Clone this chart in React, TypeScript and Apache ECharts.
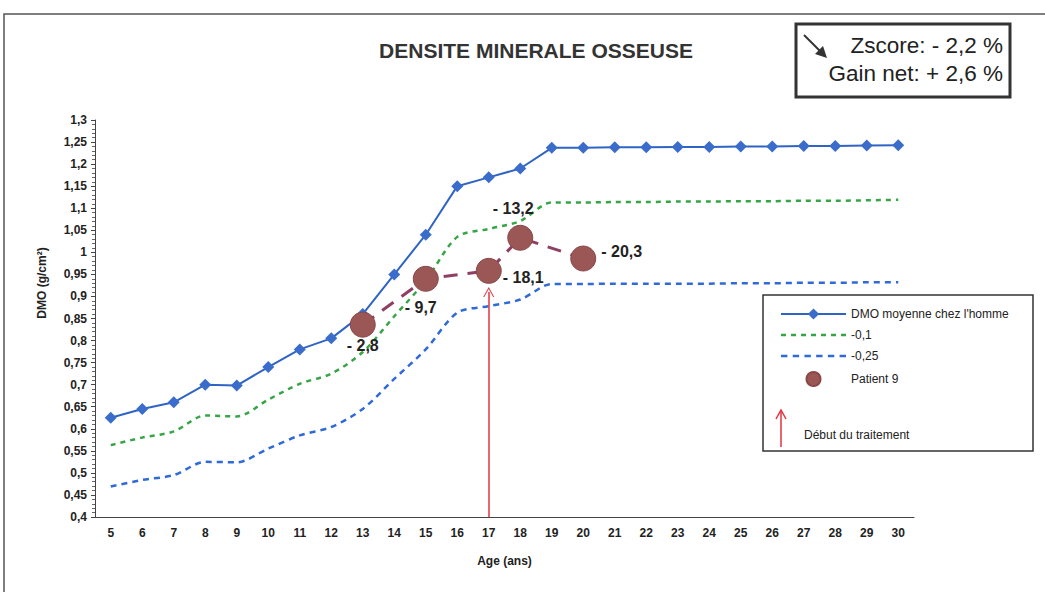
import React, { useEffect, useRef } from "react";
import * as echarts from "echarts";

const ages = ["5","6","7","8","9","10","11","12","13","14","15","16","17","18","19","20","21","22","23","24","25","26","27","28","29","30"];
const dmoMoyenne = [0.625,0.645,0.66,0.70,0.698,0.74,0.78,0.805,0.86,0.95,1.04,1.15,1.17,1.19,1.237,1.237,1.238,1.238,1.239,1.239,1.24,1.24,1.241,1.241,1.242,1.243];
const moins01 = [0.563,0.58,0.594,0.63,0.628,0.666,0.702,0.725,0.774,0.855,0.936,1.035,1.053,1.071,1.113,1.113,1.114,1.114,1.115,1.115,1.116,1.116,1.117,1.117,1.118,1.119];
const moins025 = [0.469,0.484,0.495,0.525,0.524,0.555,0.585,0.604,0.645,0.713,0.78,0.863,0.878,0.893,0.928,0.928,0.929,0.929,0.929,0.929,0.93,0.93,0.931,0.931,0.932,0.932];
const patientAges = ["13","15","17","18","20"];
const patientValues = [0.836,0.94,0.958,1.033,0.986];
const patientLabels = ["- 2,8","- 9,7","- 18,1","- 13,2","- 20,3"];
const yTickMin = 0.4;
const yTickMax = 1.3;
const yTickStep = 0.05;
const debutAge = "17";
const debutTop = 0.91;

const FONT = "Arial, 'Liberation Sans', sans-serif";

const labelPlacement = [
  { position: "bottom", distance: 0, offset: [0, 0] },
  { position: "bottom", distance: 8, offset: [-5, 0] },
  { position: "right", distance: 1, offset: [0, 7] },
  { position: "top", distance: 8, offset: [-7, 0] },
  { position: "right", distance: 5, offset: [0, -7] },
];

function dashIcon(dash: number, gap: number, total: number, h: number) {
  let d = "path://";
  for (let x = 0; x < total; x += dash + gap) {
    const w = Math.min(dash, total - x);
    d += `M${x},0h${w}v${h}h-${w}z `;
  }
  return d.trim();
}

export default function App() {
  const ref = useRef<HTMLDivElement>(null);
  useEffect(() => {
    document.body.style.margin = "0";
    const chart = echarts.init(ref.current!, null, { renderer: "svg" });
    const patientData = patientAges.map((a, i) => ({
      value: [a, patientValues[i]],
      label: {
        show: true,
        formatter: patientLabels[i],
        position: labelPlacement[i].position,
        distance: labelPlacement[i].distance,
        offset: labelPlacement[i].offset,
      },
    }));
    chart.setOption({
      animation: false,
      backgroundColor: "#ffffff",
      title: {
        text: "DENSITE MINERALE OSSEUSE",
        left: 531,
        top: 35,
        textAlign: "center",
        textStyle: { fontFamily: FONT, fontSize: 21, fontWeight: "bold", color: "#333" },
      },
      grid: { left: 95, right: 131, top: 120, bottom: 75 },
      legend: {
        orient: "vertical",
        left: 775,
        top: 303,
        itemWidth: 65,
        itemHeight: 14,
        itemGap: 9,
        textStyle: { fontFamily: FONT, fontSize: 12, color: "#222" },
        data: [
          { name: "DMO moyenne chez l'homme" },
          { name: "-0,1", icon: dashIcon(5, 5, 65, 2.5), itemStyle: { color: "#35A545" } },
          { name: "-0,25", icon: dashIcon(6, 5, 65, 2.5), itemStyle: { color: "#2F6AD6" } },
          { name: "Patient 9", icon: "circle", itemStyle: { color: "#9B5656" } },
        ],
      },
      xAxis: {
        type: "category",
        data: ages,
        boundaryGap: true,
        name: "Age (ans)",
        nameLocation: "middle",
        nameGap: 38,
        nameTextStyle: { fontFamily: FONT, fontSize: 12, fontWeight: "bold", color: "#222" },
        axisLine: { lineStyle: { color: "#444", width: 1 } },
        axisTick: { length: 4, lineStyle: { color: "#444" } },
        axisLabel: { fontFamily: FONT, fontSize: 12, fontWeight: "bold", color: "#222", margin: 10 },
      },
      yAxis: {
        type: "value",
        min: yTickMin,
        max: yTickMax,
        interval: yTickStep,
        axisLine: { show: true, lineStyle: { color: "#444", width: 1 } },
        axisTick: { show: true, length: 4, lineStyle: { color: "#444" } },
        minorTick: { show: true, splitNumber: 5, length: 3, lineStyle: { color: "#666" } },
        splitLine: { show: false },
        axisLabel: {
          fontFamily: FONT,
          fontSize: 12,
          fontWeight: "bold",
          color: "#222",
          margin: 8,
          formatter: (v: number) => String(+v.toFixed(2)).replace(".", ","),
        },
      },
      series: [
        {
          name: "-0,25",
          type: "line",
          data: moins025,
          smooth: 0.3,
          showSymbol: false,
          symbol: "none",
          lineStyle: { color: "#2F6AD6", width: 2.5, type: [6, 5] },
          itemStyle: { color: "#2F6AD6" },
        },
        {
          name: "-0,1",
          type: "line",
          data: moins01,
          smooth: 0.3,
          showSymbol: false,
          symbol: "none",
          lineStyle: { color: "#35A545", width: 2.5, type: [5, 5] },
          itemStyle: { color: "#35A545" },
        },
        {
          name: "DMO moyenne chez l'homme",
          type: "line",
          data: dmoMoyenne,
          symbol: "diamond",
          symbolSize: 12,
          lineStyle: { color: "#2F64C4", width: 2 },
          itemStyle: { color: "#3A6CCB" },
        },
        {
          name: "Patient 9",
          type: "line",
          data: patientData,
          symbol: "circle",
          symbolSize: 25,
          lineStyle: { color: "#8E3F63", width: 3, type: [14, 10] },
          itemStyle: { color: "#9B5656", borderColor: "#8A4848", borderWidth: 1 },
          label: { fontFamily: FONT, fontSize: 16, fontWeight: "bold", color: "#222" },
          z: 5,
          markLine: {
            silent: true,
            symbol: ["none", "path://M0,10 L5,0 L10,10 L9,10 L5,2 L1,10 Z"],
            symbolSize: [11, 10],
            label: { show: false },
            lineStyle: { color: "#E3323C", width: 1.5, type: "solid" },
            data: [[{ coord: [debutAge, yTickMin] }, { coord: [debutAge, debutTop] }]],
          },
        },
      ],
      graphic: [
        {
          type: "rect",
          shape: { x: 4, y: 14, width: 1200, height: 700 },
          style: { fill: "none", stroke: "#555", lineWidth: 1.5 },
          silent: true,
        },
        {
          type: "rect",
          shape: { x: 796, y: 24, width: 214, height: 73 },
          style: { fill: "#fff", stroke: "#333", lineWidth: 3 },
          silent: true,
        },
        {
          type: "line",
          shape: { x1: 804, y1: 35, x2: 822, y2: 53 },
          style: { stroke: "#333", lineWidth: 2 },
        },
        {
          type: "polygon",
          shape: { points: [[827, 58], [815, 54], [823, 46]] },
          style: { fill: "#333" },
        },
        {
          type: "text",
          x: 1003,
          y: 45,
          style: { text: "Zscore: - 2,2 %", align: "right", verticalAlign: "middle", fontFamily: FONT, fontSize: 22.5, fill: "#222" },
        },
        {
          type: "text",
          x: 1003,
          y: 73,
          style: { text: "Gain net: + 2,6 %", align: "right", verticalAlign: "middle", fontFamily: FONT, fontSize: 22.5, fill: "#222" },
        },
        {
          type: "text",
          x: 42,
          y: 283,
          rotation: Math.PI / 2,
          style: { text: "DMO (g/cm²)", align: "center", verticalAlign: "middle", fontFamily: FONT, fontSize: 12, fontWeight: "bold", fill: "#222" },
        },
        {
          type: "rect",
          shape: { x: 763, y: 295, width: 270, height: 156 },
          style: { fill: "none", stroke: "#333", lineWidth: 1.5 },
          silent: true,
        },
        {
          type: "line",
          shape: { x1: 781, y1: 447, x2: 781, y2: 411 },
          style: { stroke: "#E3323C", lineWidth: 1.5 },
        },
        {
          type: "polyline",
          shape: { points: [[776, 419], [781, 410], [786, 419]] },
          style: { stroke: "#E3323C", lineWidth: 1.5, fill: "none" },
        },
        {
          type: "text",
          x: 804,
          y: 435,
          style: { text: "Début du traitement", align: "left", verticalAlign: "middle", fontFamily: FONT, fontSize: 12, fill: "#222" },
        },
      ],
    });
    return () => chart.dispose();
  }, []);
  return <div ref={ref} style={{ position: "absolute", left: 0, top: 0, width: 1045, height: 592 }} />;
}
